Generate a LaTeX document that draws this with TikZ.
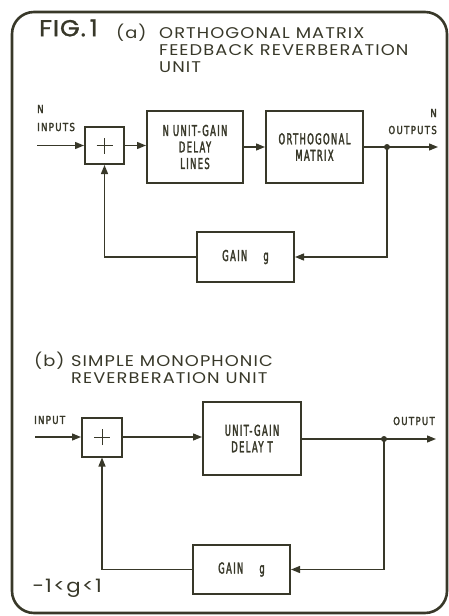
\documentclass[tikz,border=0pt]{standalone}
\usepackage{fontspec}
\usetikzlibrary{arrows.meta}
\newfontfamily\titlefont[FakeStretch=1.15,LetterSpace=7]{Poppins}
\newfontfamily\figfont[FakeStretch=1.1,LetterSpace=4,FakeBold=1.5]{Poppins}
\newfontfamily\condfont[FakeStretch=0.78,LetterSpace=12,FakeBold=2.5]{DejaVu Sans}
\newfontfamily\boxfont[FakeStretch=0.56,LetterSpace=9,FakeBold=2]{DejaVu Sans}
\definecolor{ink}{rgb}{0.22,0.22,0.16}
\begin{document}
\begin{tikzpicture}[x=1pt,y=-1pt,
  box/.style={draw=ink,text=ink,line width=2pt,fill=white,align=center,inner sep=0pt,
    font=\boxfont\fontsize{15}{16.5}\selectfont},
  lbl/.style={text=ink,font=\condfont\fontsize{11}{15}\selectfont,inner sep=0pt,align=center},
  ttl/.style={text=ink,font=\titlefont\fontsize{15.5}{17}\selectfont,inner sep=0pt,anchor=west},
  wire/.style={draw=ink,line width=1.3pt},
  arr/.style={wire,-{Triangle[length=9pt,width=7pt]}},
  dotn/.style={circle,fill=ink,inner sep=0pt,minimum size=6pt}
]
\useasboundingbox (0,0) rectangle (449,616);
% frame
\draw[draw=ink,line width=2.6pt,rounded corners=22pt] (12,12) rectangle (447,613);
% ---------- (a) ----------
\node[text=ink,font=\figfont\fontsize{23}{26}\selectfont,anchor=west,inner sep=0pt] (fig) at (39,28) {FIG.\,1};
\node[ttl] (ta0) at (116,33) {(a)};
\node[ttl] (ta1) at (159,33) {ORTHOGONAL MATRIX};
\node[ttl] (ta2) at (159,50) {FEEDBACK REVERBERATION};
\node[ttl] (ta3) at (159,67) {UNIT};
\node[lbl,anchor=west] (nin) at (37,109) {N};
\node[lbl,anchor=west] (inl) at (37,127) {INPUTS};
\node[lbl,anchor=east] (nout) at (437,113) {N};
\node[lbl,anchor=east] (outl) at (437,130) {OUTPUTS};

\node[box,minimum width=39pt,minimum height=37pt] (sA) at (104.5,145.5) {};
\draw[wire,line width=0.9pt] ([xshift=-8pt]sA.center) -- ([xshift=8pt]sA.center)
  ([yshift=-8pt]sA.center) -- ([yshift=8pt]sA.center);
\node[box,minimum width=96pt,minimum height=72pt] (dA) at (195,147) {N\ UNIT-GAIN\\DELAY\\LINES};
\node[box,minimum width=97pt,minimum height=72pt] (mA) at (314.5,147) {ORTHOGONAL\\MATRIX};
\node[box,minimum width=97pt,minimum height=50pt] (gA) at (245.5,257) {GAIN\ \ \ \ g};

\coordinate (inA) at (37,145.5);
\coordinate (outA) at (438,147);
\node[dotn] (dotA) at (387,147) {};

\draw[arr] (inA) -- (sA.west);
\draw[arr] (sA.east) -- (sA.east -| dA.west);
\draw[arr] (dA.east) -- (dA.east -| mA.west);
\draw[arr] (mA.east) -- (outA);
\draw[arr] (dotA.center) |- (gA.east);
\draw[arr] (gA.west) -| (sA.south);

% ---------- (b) ----------
\node[ttl] (tb0) at (34,361) {(b)};
\node[ttl] (tb1) at (71,361) {SIMPLE MONOPHONIC};
\node[ttl] (tb2) at (71,378) {REVERBERATION UNIT};
\node[lbl,anchor=west] (inbl) at (34,420) {INPUT};
\node[lbl,anchor=east] (outbl) at (435,421) {OUTPUT};

\node[box,minimum width=40pt,minimum height=39pt] (sB) at (102,437) {};
\draw[wire,line width=0.9pt] ([xshift=-8pt]sB.center) -- ([xshift=8pt]sB.center)
  ([yshift=-8pt]sB.center) -- ([yshift=8pt]sB.center);
\node[box,minimum width=98pt,minimum height=73pt] (dB) at (252,438.5) {UNIT-GAIN\\DELAY\ T};
\node[box,minimum width=97pt,minimum height=49pt] (gB) at (241.5,569.5) {GAIN\ \ \ \ g};

\coordinate (inB) at (35,437);
\coordinate (outB) at (436,439);
\node[dotn] (dotB) at (384,439) {};

\draw[arr] (inB) -- (sB.west);
\draw[arr] (sB.east) -- (sB.east -| dB.west);
\draw[wire] (dB.east |- dotB) -- (dotB.center);
\draw[arr] (dotB.center) -- (outB);
\draw[arr] (dotB.center) |- (gB.east);
\draw[arr] (gB.west) -| (sB.south);

\node[text=ink,font=\titlefont\fontsize{18.5}{20}\selectfont,anchor=west,inner sep=0pt] (cond) at (32,588) {\char"2212 1<g<1};
\end{tikzpicture}
\end{document}
